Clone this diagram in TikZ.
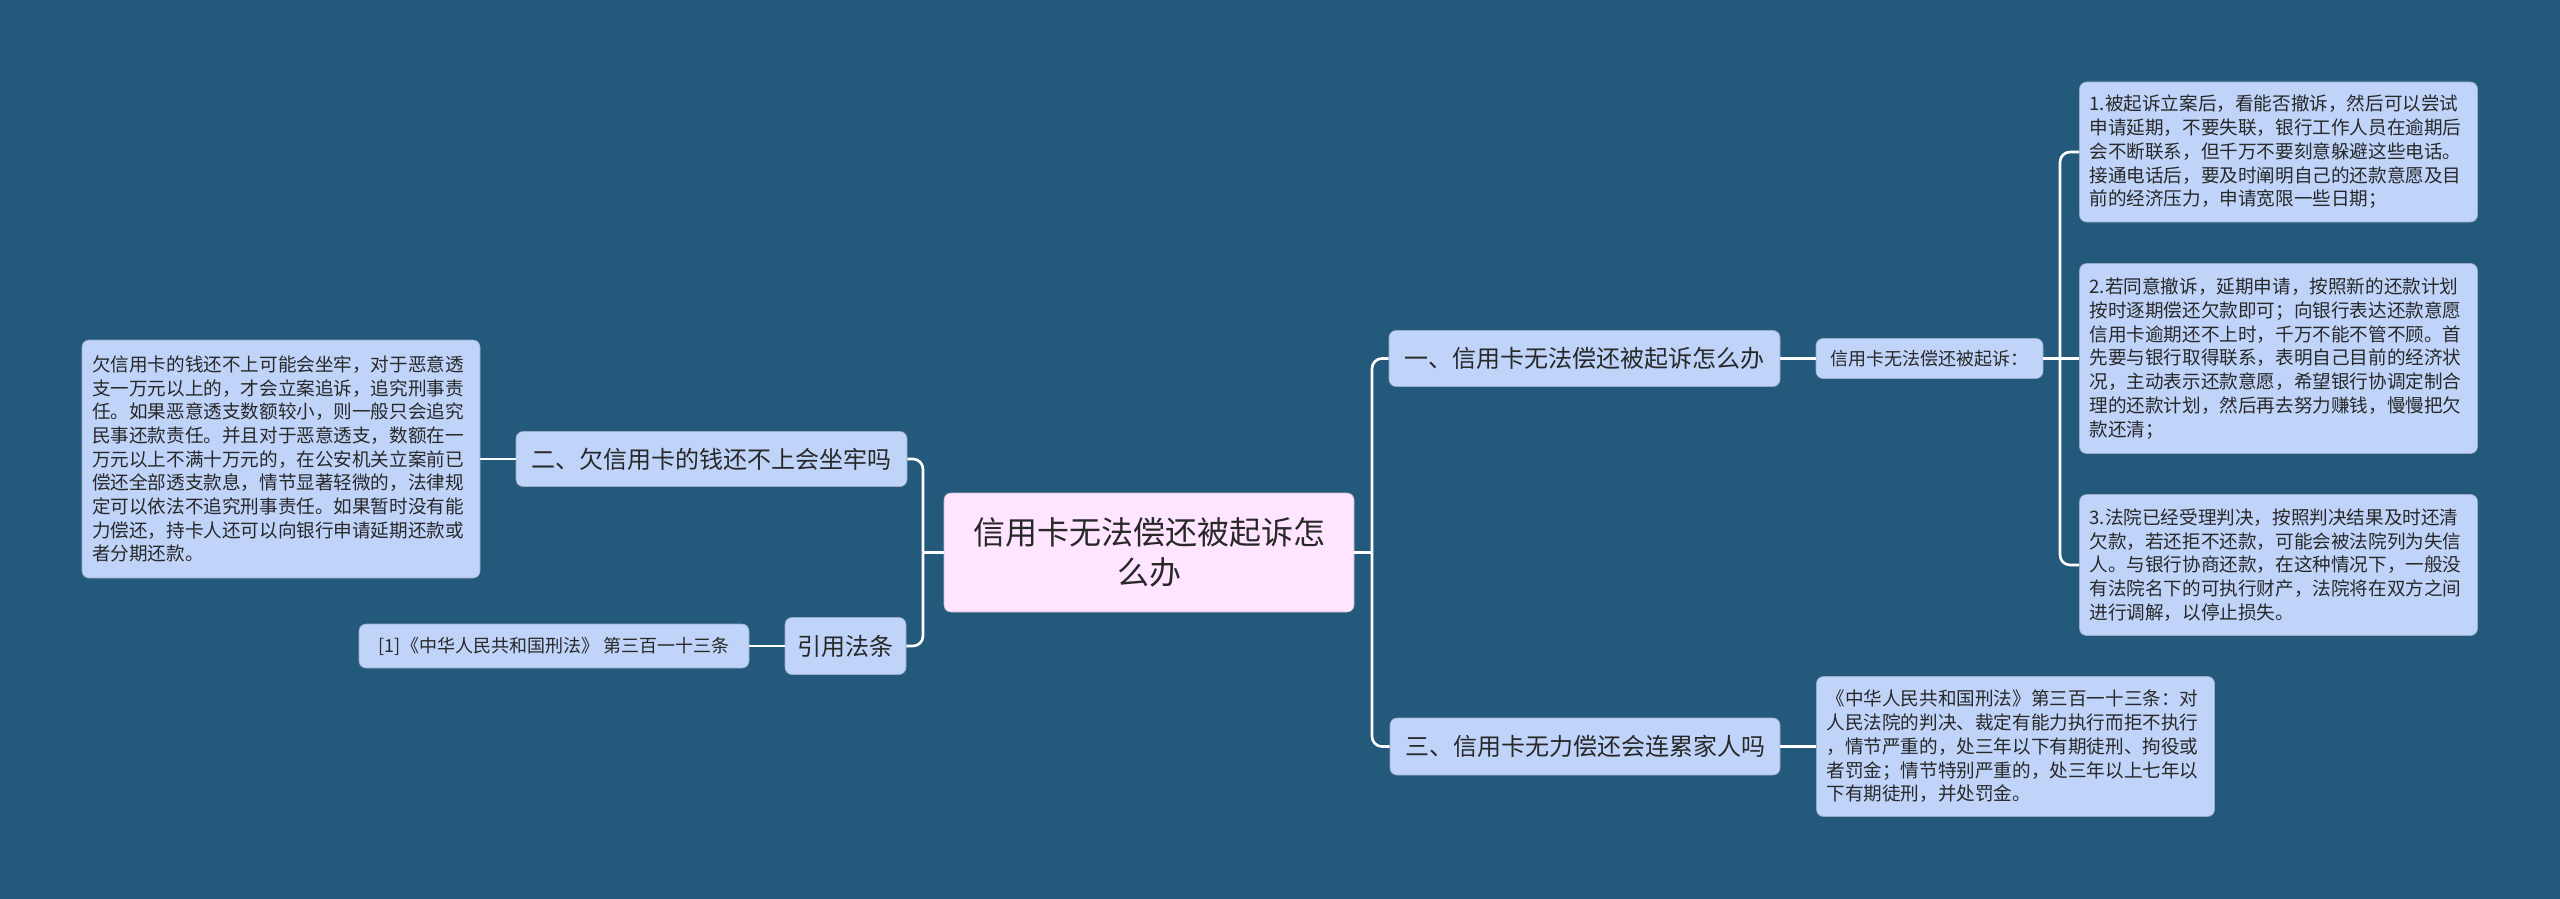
\documentclass[tikz,border=0pt]{standalone}
\usepackage{fontspec}
\setmainfont{Noto Sans CJK SC}
\definecolor{bgc}{RGB}{35,89,122}
\definecolor{nodec}{RGB}{192,212,250}
\definecolor{rootc}{RGB}{255,229,255}
\definecolor{txtc}{RGB}{40,40,40}
\tikzset{
  base/.style={rounded corners=7pt, fill=nodec, draw=nodec!80!black, line width=0.6pt, text=txtc, inner sep=0pt, anchor=center},
  big/.style={base, font=\fontsize{24}{30}\selectfont},
  mid/.style={base, font=\fontsize{18}{22}\selectfont},
  para/.style={base, font=\fontsize{18.6}{23.7}\selectfont, align=left, inner xsep=10pt, text width=378pt},
  conn/.style={draw=white, line width=2.6pt},
}
\begin{document}
\begin{tikzpicture}[x=1pt,y=-1pt]
\fill[bgc] (0,0) rectangle (2560,899);
\useasboundingbox (0,0) rectangle (2560,899);

% connectors (drawn first, under the nodes)
\coordinate (lj) at (923,552.5);
\coordinate (rj) at (1372,552.5);
\coordinate (sj) at (2060,358.5);

% root
\node[base, fill=rootc, draw=rootc!80!black, minimum width=410pt, minimum height=119pt, align=center, font=\fontsize{32}{40}\selectfont] (root) at (1149,552.5) {信用卡无法偿还被起诉怎\\么办};

% right side
\node[big, minimum width=391pt, minimum height=56pt] (n1) at (1584.5,358.5) {一、信用卡无法偿还被起诉怎么办};
\node[mid, minimum width=227pt, minimum height=40pt] (sub) at (1929.5,358.5) {信用卡无法偿还被起诉：};
\node[para, minimum height=140pt] (r1) at (2278.5,152) {1.被起诉立案后，看能否撤诉，然后可以尝试\\申请延期，不要失联，银行工作人员在逾期后\\会不断联系，但千万不要刻意躲避这些电话。\\接通电话后，要及时阐明自己的还款意愿及目\\前的经济压力，申请宽限一些日期；};
\node[para, minimum height=190pt] (r2) at (2278.5,358.5) {2.若同意撤诉，延期申请，按照新的还款计划\\按时逐期偿还欠款即可；向银行表达还款意愿\\信用卡逾期还不上时，千万不能不管不顾。首\\先要与银行取得联系，表明自己目前的经济状\\况，主动表示还款意愿，希望银行协调定制合\\理的还款计划，然后再去努力赚钱，慢慢把欠\\款还清；};
\node[para, minimum height=141pt] (r3) at (2278.5,565) {3.法院已经受理判决，按照判决结果及时还清\\欠款，若还拒不还款，可能会被法院列为失信\\人。与银行协商还款，在这种情况下，一般没\\有法院名下的可执行财产，法院将在双方之间\\进行调解，以停止损失。};
\node[big, minimum width=390pt, minimum height=57pt] (n3) at (1585,746.5) {三、信用卡无力偿还会连累家人吗};
\node[para, minimum height=140pt] (law) at (2015.5,746.5) {《中华人民共和国刑法》第三百一十三条：对\\人民法院的判决、裁定有能力执行而拒不执行\\，情节严重的，处三年以下有期徒刑、拘役或\\者罚金；情节特别严重的，处三年以上七年以\\下有期徒刑，并处罚金。};

% left side
\node[big, minimum width=391pt, minimum height=55pt] (n2) at (711.5,459) {二、欠信用卡的钱还不上会坐牢吗};
\node[para, minimum height=238pt] (lt) at (281,459) {欠信用卡的钱还不上可能会坐牢，对于恶意透\\支一万元以上的，才会立案追诉，追究刑事责\\任。如果恶意透支数额较小，则一般只会追究\\民事还款责任。并且对于恶意透支，数额在一\\万元以上不满十万元的，在公安机关立案前已\\偿还全部透支款息，情节显著轻微的，法律规\\定可以依法不追究刑事责任。如果暂时没有能\\力偿还，持卡人还可以向银行申请延期还款或\\者分期还款。};
\node[big, minimum width=121pt, minimum height=57pt] (n4) at (845.5,646) {引用法条};
\node[mid, minimum width=390pt, minimum height=44pt] (ref) at (554,646) {[1]《中华人民共和国刑法》 第三百一十三条};

% connectors
\draw[conn] (root.west) -- (lj);
\draw[conn, rounded corners=10pt] (n2.east) -| (lj);
\draw[conn, rounded corners=10pt] (n4.east) -| (lj);
\draw[conn] (root.east) -- (rj);
\draw[conn, rounded corners=10pt] (n1.west) -| (rj);
\draw[conn, rounded corners=10pt] (n3.west) -| (rj);
\draw[conn] (n1.east) -- (sub.west);
\draw[conn] (sub.east) -- (r2.west);
\draw[conn, rounded corners=10pt] (r1.west) -| (sj);
\draw[conn, rounded corners=10pt] (r3.west) -| (sj);
\draw[conn] (n3.east) -- (law.west);
\draw[conn] (n2.west) -- (lt.east);
\draw[conn] (n4.west) -- (ref.east);
\end{tikzpicture}
\end{document}
